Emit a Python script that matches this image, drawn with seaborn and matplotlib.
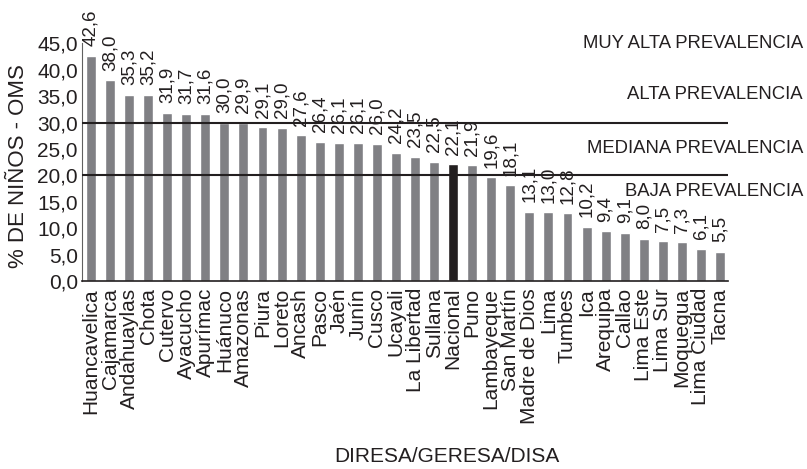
import seaborn as sns
import matplotlib.pyplot as plt
from matplotlib.transforms import blended_transform_factory

regions = ["Huancavelica", "Cajamarca", "Andahuaylas", "Chota", "Cutervo", "Ayacucho",
           "Apurímac", "Huánuco", "Amazonas", "Piura", "Loreto", "Ancash", "Pasco",
           "Jaén", "Junín", "Cusco", "Ucayali", "La Libertad", "Sullana", "Nacional",
           "Puno", "Lambayeque", "San Martín", "Madre de Dios", "Lima", "Tumbes", "Ica",
           "Arequipa", "Callao", "Lima Este", "Lima Sur", "Moquegua", "Lima Ciudad", "Tacna"]
prevalence = [42.6, 38.0, 35.3, 35.2, 31.9, 31.7, 31.6, 30.0, 29.9, 29.1, 29.0, 27.6, 26.4,
              26.1, 26.1, 26.0, 24.2, 23.5, 22.5, 22.1, 21.9, 19.6, 18.1, 13.1, 13.0, 12.8,
              10.2, 9.4, 9.1, 8.0, 7.5, 7.3, 6.1, 5.5]
yticks = [0, 5, 10, 15, 20, 25, 30, 35, 40, 45]
thresholds = [30, 20]
band_labels = ["MUY ALTA PREVALENCIA", "ALTA PREVALENCIA", "MEDIANA PREVALENCIA", "BAJA PREVALENCIA"]
band_label_y = [44.1, 34.5, 24.2, 16.1]

gray = "#808084"
dark = "#231f20"

sns.set_style("white")
plt.rcParams["font.family"] = ["Liberation Sans", "DejaVu Sans"]
plt.rcParams["text.color"] = dark

fig = plt.figure(figsize=(8.07, 4.69), dpi=100)
ax = fig.add_axes([0.1016, 0.4009, 0.8005, 0.5066])

colors = [dark if r == "Nacional" else gray for r in regions]
sns.barplot(x=regions, y=prevalence, hue=regions, palette=colors, legend=False,
            width=0.52, saturation=1, ax=ax)

for y in thresholds:
    ax.axhline(y, color=dark, lw=1.5, zorder=3)

# value labels above bars
for i, v in enumerate(prevalence):
    ax.annotate(f"{v:.1f}".replace(".", ","), (i, v), xytext=(0, 7),
                textcoords="offset points", rotation=90, ha="center", va="bottom",
                fontsize=13.5, color=dark)

ax.set_ylim(0, 45)
ax.set_xlim(-0.47, len(regions) - 0.58)
ax.set_yticks(yticks)
ax.set_yticklabels([f"{t:.1f}".replace(".", ",") for t in yticks], fontsize=15, color=dark)
ax.set_xticks(range(len(regions)))
ax.set_xticklabels(regions, rotation=90, fontsize=15, color=dark)
ax.tick_params(axis="y", length=0, pad=3)
ax.tick_params(axis="x", length=0, pad=5)

for s in ["top", "right"]:
    ax.spines[s].set_visible(False)
ax.spines["left"].set_color("#606060")
ax.spines["left"].set_linewidth(0.8)
ax.spines["bottom"].set_color(dark)
ax.spines["bottom"].set_linewidth(1.2)

ax.set_xlabel("")
ax.set_ylabel("% DE NIÑOS - OMS", fontsize=16, color=dark)
ax.yaxis.set_label_coords(-0.082, 0.485)

fig.text(0.5533, 0.006, "DIRESA/GERESA/DISA", ha="center", va="bottom",
         fontsize=15, color=dark)

trans = blended_transform_factory(fig.transFigure, ax.transData)
for lbl, y in zip(band_labels, band_label_y):
    ax.text(0.995, y, lbl, transform=trans, ha="right", va="baseline",
            fontsize=13.3, color=dark, clip_on=False)

fig.savefig("out.png", dpi=100)
